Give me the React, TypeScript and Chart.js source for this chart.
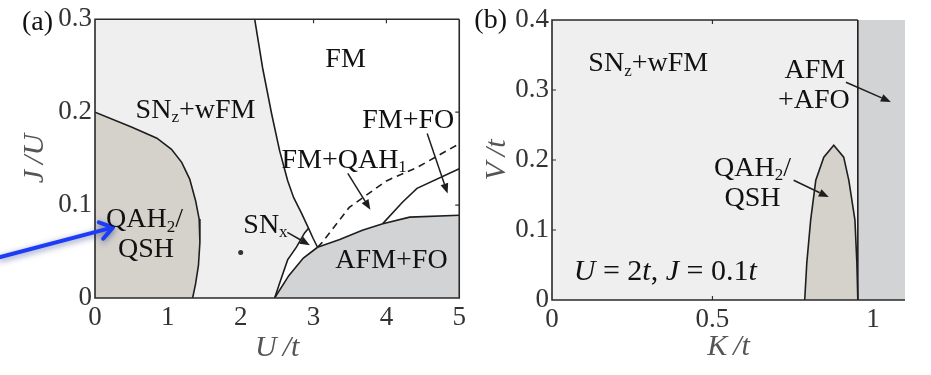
import React, { useEffect, useRef } from 'react';
import { Chart, registerables } from 'chart.js';

Chart.register(...registerables);

type Pt = [number, number];
type Part = { t: string; sub?: boolean; it?: boolean };
type Note = { at: Pt; parts: Part[]; size?: number };
type Arrow = { from: Pt; to: Pt; blue?: boolean };

const SERIF = '"Liberation Serif", "Times New Roman", serif';
const INK = '#1e1e1e';
const LIGHT = '#efefef';
const BEIGE = '#d5d2cb';
const GREY = '#d2d3d5';

// ---------- panel (a): J/U against U/t ----------
const uTicks = [0, 1, 2, 3, 4, 5];
const jTicks = [0, 0.1, 0.2, 0.3];

// QAH2/QSH dome, from the J/U axis down to the U/t axis
const qahEdgeA: Pt[] = [
  [0, 0.2], [0.5, 0.184], [0.85, 0.172], [1.05, 0.16], [1.19, 0.146], [1.3, 0.128],
  [1.38, 0.105], [1.43, 0.085], [1.44, 0.06], [1.42, 0.035], [1.38, 0.015], [1.34, 0],
];
// SNz+wFM / FM boundary, top edge down to where the SNx sliver opens
const fmUpperEdge: Pt[] = [
  [2.192, 0.3], [2.301, 0.2475], [2.425, 0.198], [2.534, 0.1586], [2.644, 0.1264],
  [2.726, 0.1082], [2.836, 0.0911], [2.932, 0.075],
];
// SNx / FM boundary, down to the triple point
const fmLowerEdge: Pt[] = [[2.932, 0.075], [2.993, 0.0643], [3.055, 0.0546]];
// SNz+wFM / SNx boundary
const snxEdge: Pt[] = [[2.466, 0], [2.534, 0.016], [2.644, 0.041], [2.767, 0.055], [2.877, 0.07], [2.932, 0.075]];
// SNx / AFM+FO boundary
const afmLeftEdge: Pt[] = [[2.466, 0], [2.66, 0.024], [2.86, 0.043], [3.055, 0.0546]];
// AFM+FO upper boundary
const afmTopEdge: Pt[] = [[3.055, 0.0546], [3.36, 0.063], [3.67, 0.073], [3.95, 0.08], [4.32, 0.087], [5, 0.089]];
// FM+QAH1 / FM crossover (dashed)
const qah1Edge: Pt[] = [[3.055, 0.0546], [3.11, 0.059], [3.49, 0.0975], [4.0, 0.126], [4.41, 0.14], [5, 0.166]];
// FM+FO lower boundary
const foEdge: Pt[] = [[3.95, 0.08], [4.22, 0.103], [4.42, 0.118], [5, 0.139]];
const markedPoint: Pt[] = [[2, 0.049]];

// ---------- panel (b): V/t against K/t ----------
const kTicks = [0, 0.5, 1];
const vTicks = [0, 0.1, 0.2, 0.3, 0.4];
const kMax = 1.1;
const vMax = 0.4;
const afoEdgeK = 0.953;
const qahDomeB: Pt[] = [
  [0.7875, 0], [0.794, 0.053], [0.806, 0.114], [0.822, 0.171], [0.847, 0.204], [0.878, 0.221],
  [0.909, 0.204], [0.925, 0.171], [0.944, 0.114], [0.95, 0.053], [0.953, 0],
];

const notesA: Note[] = [
  { at: [1.38, 0.204], parts: [{ t: 'SN' }, { t: 'z', sub: true }, { t: '+wFM' }] },
  { at: [3.44, 0.259], parts: [{ t: 'FM' }] },
  { at: [4.3, 0.193], parts: [{ t: 'FM+FO' }] },
  { at: [3.42, 0.15], parts: [{ t: 'FM+QAH' }, { t: '1', sub: true }] },
  { at: [2.34, 0.08], parts: [{ t: 'SN' }, { t: 'x', sub: true }] },
  { at: [4.07, 0.042], parts: [{ t: 'AFM+FO' }] },
  { at: [0.68, 0.086], parts: [{ t: 'QAH' }, { t: '2', sub: true }, { t: '/' }] },
  { at: [0.7, 0.054], parts: [{ t: 'QSH' }] },
];
const arrowsA: Arrow[] = [
  { from: [3.47, 0.134], to: [3.78, 0.095] },
  { from: [4.56, 0.177], to: [4.84, 0.1125] },
  { from: [2.64, 0.0707], to: [2.95, 0.0568] },
  { from: [-1.3, 0.044], to: [0.247, 0.076], blue: true },
];

const notesB: Note[] = [
  { at: [0.3, 0.34], parts: [{ t: 'SN' }, { t: 'z', sub: true }, { t: '+wFM' }] },
  { at: [0.819, 0.331], parts: [{ t: 'AFM' }] },
  { at: [0.816, 0.287], parts: [{ t: '+AFO' }] },
  { at: [0.625, 0.191], parts: [{ t: 'QAH' }, { t: '2', sub: true }, { t: '/' }] },
  { at: [0.625, 0.147], parts: [{ t: 'QSH' }] },
  {
    at: [0.353, 0.043],
    size: 30,
    parts: [
      { t: 'U', it: true }, { t: ' = 2' }, { t: 't', it: true }, { t: ', ' },
      { t: 'J', it: true }, { t: ' = 0.1' }, { t: 't', it: true },
    ],
  },
];
const arrowsB: Arrow[] = [
  { from: [0.916, 0.311], to: [1.056, 0.283] },
  { from: [0.753, 0.171], to: [0.8625, 0.147] },
];

const rev = (pts: Pt[]): Pt[] => [...pts].reverse();
const toXY = (pts: Pt[]) => pts.map(([x, y]) => ({ x, y }));

const region = (pts: Pt[], color: string) => ({
  data: toXY(pts),
  showLine: true,
  fill: 'shape',
  backgroundColor: color,
  borderColor: 'transparent',
  borderWidth: 0,
  pointRadius: 0,
  order: 10,
});

const edge = (pts: Pt[], dash: number[] = []) => ({
  data: toXY(pts),
  showLine: true,
  fill: false,
  borderColor: INK,
  borderWidth: 1.6,
  borderDash: dash,
  pointRadius: 0,
  order: 5,
});

function drawNote(chart: any, n: Note) {
  const { ctx, scales } = chart;
  const size = n.size ?? 28;
  const px = scales.x.getPixelForValue(n.at[0]);
  const py = scales.y.getPixelForValue(n.at[1]);
  const fontOf = (p: Part) => `${p.it ? 'italic ' : ''}${p.sub ? Math.round(size * 0.62) : size}px ${SERIF}`;
  ctx.save();
  ctx.fillStyle = '#111';
  ctx.textBaseline = 'alphabetic';
  ctx.textAlign = 'left';
  const widths = n.parts.map((p) => {
    ctx.font = fontOf(p);
    return ctx.measureText(p.t).width;
  });
  const total = widths.reduce((a, b) => a + b, 0);
  let cx = px - total / 2;
  const base = py + size * 0.33;
  n.parts.forEach((p, i) => {
    ctx.font = fontOf(p);
    ctx.fillText(p.t, cx, p.sub ? base + size * 0.16 : base);
    cx += widths[i];
  });
  ctx.restore();
}

function drawArrow(chart: any, a: Arrow) {
  const { ctx, scales } = chart;
  const x1 = scales.x.getPixelForValue(a.from[0]);
  const y1 = scales.y.getPixelForValue(a.from[1]);
  const x2 = scales.x.getPixelForValue(a.to[0]);
  const y2 = scales.y.getPixelForValue(a.to[1]);
  const ang = Math.atan2(y2 - y1, x2 - x1);
  ctx.save();
  if (a.blue) {
    ctx.strokeStyle = '#1c3cf5';
    ctx.lineWidth = 4;
    ctx.lineCap = 'round';
    ctx.lineJoin = 'round';
    ctx.shadowColor = 'rgba(20,40,120,0.55)';
    ctx.shadowBlur = 6;
    ctx.shadowOffsetY = 2;
    ctx.beginPath();
    ctx.moveTo(x1, y1);
    ctx.lineTo(x2, y2);
    const arm = 15;
    ctx.moveTo(x2 - arm * Math.cos(ang - 0.6), y2 - arm * Math.sin(ang - 0.6));
    ctx.lineTo(x2, y2);
    ctx.lineTo(x2 - arm * Math.cos(ang + 0.6), y2 - arm * Math.sin(ang + 0.6));
    ctx.stroke();
  } else {
    const head = 10;
    const half = 4;
    const bx = x2 - head * Math.cos(ang);
    const by = y2 - head * Math.sin(ang);
    ctx.strokeStyle = INK;
    ctx.fillStyle = INK;
    ctx.lineWidth = 1.5;
    ctx.beginPath();
    ctx.moveTo(x1, y1);
    ctx.lineTo(bx, by);
    ctx.stroke();
    ctx.beginPath();
    ctx.moveTo(x2, y2);
    ctx.lineTo(bx + half * Math.sin(ang), by - half * Math.cos(ang));
    ctx.lineTo(bx - half * Math.sin(ang), by + half * Math.cos(ang));
    ctx.closePath();
    ctx.fill();
  }
  ctx.restore();
}

function drawTicks(chart: any, o: any) {
  const { ctx, chartArea, scales } = chart;
  const { left, right, top, bottom } = chartArea;
  const len = 4;
  ctx.save();
  ctx.strokeStyle = '#333';
  ctx.lineWidth = 1.2;
  ctx.beginPath();
  for (const v of o.xTicks) {
    if (v <= scales.x.min || v >= scales.x.max || v > o.tickLimitX) continue;
    const px = scales.x.getPixelForValue(v);
    ctx.moveTo(px, bottom);
    ctx.lineTo(px, bottom - len);
    ctx.moveTo(px, top);
    ctx.lineTo(px, top + len);
  }
  for (const v of o.yTicks) {
    if (v <= scales.y.min || v >= scales.y.max) continue;
    const py = scales.y.getPixelForValue(v);
    ctx.moveTo(left, py);
    ctx.lineTo(left + len, py);
    if (o.rightEdge) {
      ctx.moveTo(right, py);
      ctx.lineTo(right - len, py);
    }
  }
  ctx.stroke();
  ctx.restore();
}

function drawFrame(chart: any, o: any) {
  const { ctx, chartArea, scales } = chart;
  const { left, right, top, bottom } = chartArea;
  const topEnd = o.topEndX != null ? scales.x.getPixelForValue(o.topEndX) : right;
  ctx.save();
  ctx.strokeStyle = '#2a2a2a';
  ctx.lineWidth = 1.6;
  ctx.beginPath();
  ctx.moveTo(topEnd, top);
  ctx.lineTo(left, top);
  ctx.lineTo(left, bottom);
  ctx.lineTo(right, bottom);
  if (o.rightEdge) ctx.lineTo(right, top);
  ctx.stroke();
  ctx.restore();
}

const decor = {
  id: 'phaseDecor',
  beforeDatasetsDraw(chart: any, _args: any, o: any) {
    const { ctx, chartArea } = chart;
    ctx.save();
    ctx.fillStyle = '#ffffff';
    ctx.fillRect(chartArea.left, chartArea.top, chartArea.right - chartArea.left, chartArea.bottom - chartArea.top);
    ctx.restore();
    if (o.ticksBelow) drawTicks(chart, o);
  },
  afterDatasetsDraw(chart: any, _args: any, o: any) {
    if (!o.ticksBelow) drawTicks(chart, o);
    drawFrame(chart, o);
    o.arrows.forEach((a: Arrow) => drawArrow(chart, a));
    o.notes.forEach((n: Note) => drawNote(chart, n));
    const { ctx, chartArea } = chart;
    ctx.save();
    ctx.fillStyle = '#111';
    ctx.font = `28px ${SERIF}`;
    ctx.textAlign = 'right';
    ctx.textBaseline = 'middle';
    ctx.fillText(o.panel, chartArea.left - o.panelGap, o.panelY);
    ctx.restore();
  },
};

function axes(
  xr: [number, number], yr: [number, number], xt: number[], yt: number[],
  xTitle: string, yTitle: string, yWidth: number, xHeight: number, xPad: number, yPad: number,
) {
  const tickFont = { family: SERIF, size: 27 };
  const titleFont = { family: SERIF, size: 30, style: 'italic' as const };
  return {
    x: {
      type: 'linear' as const,
      min: xr[0],
      max: xr[1],
      afterBuildTicks: (s: any) => { s.ticks = xt.map((value) => ({ value })); },
      afterFit: (s: any) => { s.height = xHeight; },
      ticks: { font: tickFont, color: '#333', padding: 4, maxRotation: 0, autoSkip: false, callback: (v: any) => String(v) },
      grid: { display: false, drawTicks: false },
      border: { display: false },
      title: { display: true, text: xTitle, font: titleFont, color: '#555', padding: { top: 0, bottom: xPad } },
    },
    y: {
      type: 'linear' as const,
      min: yr[0],
      max: yr[1],
      afterBuildTicks: (s: any) => { s.ticks = yt.map((value) => ({ value })); },
      afterFit: (s: any) => { s.width = yWidth; },
      ticks: { font: tickFont, color: '#333', padding: 3, autoSkip: false, callback: (v: any) => String(v) },
      grid: { display: false, drawTicks: false },
      border: { display: false },
      title: { display: true, text: yTitle, font: titleFont, color: '#555', padding: { top: yPad, bottom: 0 } },
    },
  };
}

function configA(): any {
  const snzRegion: Pt[] = [[0, 0.3], ...fmUpperEdge, ...rev(snxEdge), [0, 0]];
  const afmRegion: Pt[] = [...afmLeftEdge, ...afmTopEdge, [5, 0]];
  const qahRegion: Pt[] = [...qahEdgeA, [0, 0]];
  return {
    type: 'scatter',
    data: {
      datasets: [
        { ...region(snzRegion, LIGHT), order: 12 },
        { ...region(afmRegion, GREY), order: 11 },
        { ...region(qahRegion, BEIGE), order: 10 },
        edge(qahEdgeA),
        edge([...fmUpperEdge, ...fmLowerEdge.slice(1)]),
        edge(snxEdge),
        edge(afmLeftEdge),
        edge(afmTopEdge),
        edge(foEdge),
        edge(qah1Edge, [7, 5]),
        { data: toXY(markedPoint), pointRadius: 2.5, pointBackgroundColor: '#333', pointBorderWidth: 0, order: 1 },
      ],
    },
    options: {
      responsive: false,
      animation: false,
      events: [],
      layout: { padding: { left: 0, top: 18, right: 10, bottom: 0 } },
      scales: axes([0, 5], [0, 0.3], uTicks, jTicks, 'U\u2009/t', 'J\u2009/U', 95, 77, 9, 17),
      plugins: {
        legend: { display: false },
        tooltip: { enabled: false },
        phaseDecor: {
          xTicks: uTicks, yTicks: jTicks, tickLimitX: 5, ticksBelow: true, rightEdge: true,
          topEndX: null, notes: notesA, arrows: arrowsA, panel: '(a)', panelGap: 42, panelY: 23,
        },
      },
    },
    plugins: [decor],
  };
}

function configB(): any {
  const snzRegion: Pt[] = [[0, 0], [0, vMax], [afoEdgeK, vMax], [afoEdgeK, 0]];
  const afoRegion: Pt[] = [[afoEdgeK, 0], [afoEdgeK, vMax], [kMax, vMax], [kMax, 0]];
  return {
    type: 'scatter',
    data: {
      datasets: [
        { ...region(snzRegion, LIGHT), order: 12 },
        { ...region(afoRegion, GREY), order: 11 },
        { ...region(qahDomeB, BEIGE), order: 10 },
        edge(qahDomeB),
        edge([[afoEdgeK, 0], [afoEdgeK, vMax]]),
      ],
    },
    options: {
      responsive: false,
      animation: false,
      events: [],
      layout: { padding: { left: 0, top: 20, right: 26, bottom: 0 } },
      scales: axes([0, kMax], [0, vMax], kTicks, vTicks, 'K\u2009/t', 'V\u2009/t', 82, 75, 10, 9),
      plugins: {
        legend: { display: false },
        tooltip: { enabled: false },
        phaseDecor: {
          xTicks: kTicks, yTicks: vTicks, tickLimitX: afoEdgeK, ticksBelow: false, rightEdge: false,
          topEndX: afoEdgeK, notes: notesB, arrows: arrowsB, panel: '(b)', panelGap: 45, panelY: 21,
        },
      },
    },
    plugins: [decor],
  };
}

function Panel({ left, width, make }: { left: number; width: number; make: () => any }) {
  const ref = useRef<HTMLCanvasElement>(null);
  useEffect(() => {
    const chart = new Chart(ref.current as HTMLCanvasElement, make());
    return () => chart.destroy();
  }, []);
  return (
    <div style={{ position: 'absolute', left, top: 0, width, height: 375 }}>
      <canvas ref={ref} width={width} height={375} style={{ display: 'block' }} />
    </div>
  );
}

export default function App() {
  return (
    <div style={{ position: 'absolute', left: 0, top: 0, width: 931, height: 375, background: '#fff', overflow: 'hidden' }}>
      <Panel left={0} width={470} make={configA} />
      <Panel left={470} width={461} make={configB} />
    </div>
  );
}
